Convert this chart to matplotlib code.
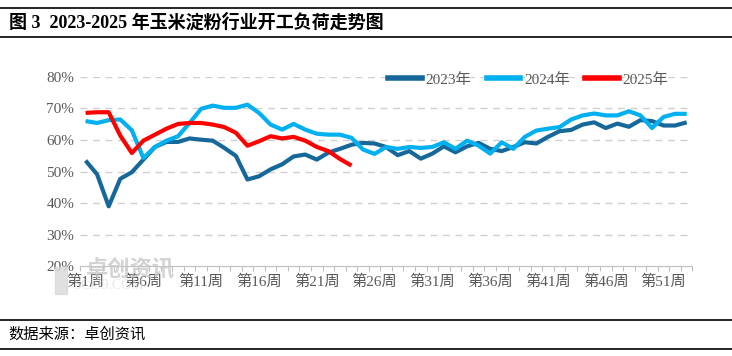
import matplotlib
matplotlib.use("Agg")
from matplotlib import pyplot as plt
from matplotlib.lines import Line2D
from matplotlib.patches import Rectangle
import numpy as np

plt.rcParams['font.family'] = ['Liberation Serif', 'Noto Sans CJK SC', 'DejaVu Sans']

# weekly operating rate, %
weeks = list(range(1, 54))
load_2023 = [53.5, 49.1, 39.0, 47.7, 49.8, 53.8, 57.8, 59.4, 59.4, 60.5,
             60.1, 59.8, 57.5, 55.0, 47.5, 48.5, 50.7, 52.3, 54.8, 55.4,
             53.8, 56.0, 57.2, 58.5, 59.1, 58.9, 57.8, 55.2, 56.5, 54.1,
             55.7, 58.0, 56.1, 58.0, 59.1, 57.2, 56.5, 57.8, 59.3, 58.9,
             61.0, 62.8, 63.2, 64.9, 65.6, 63.8, 65.2, 64.2, 66.3, 66.0,
             64.6, 64.6, 65.6]
load_2024 = [66.0, 65.4, 66.3, 66.5, 63.1, 54.3, 57.8, 59.8, 61.2, 65.4,
             69.9, 70.9, 70.2, 70.2, 71.2, 68.6, 64.9, 63.3, 65.1, 63.3,
             62.0, 61.7, 61.7, 60.7, 57.0, 55.6, 57.8, 57.2, 57.8, 57.5,
             57.8, 59.3, 57.2, 59.8, 58.2, 55.7, 59.3, 57.2, 61.0, 63.0,
             63.6, 64.1, 66.5, 67.8, 68.4, 67.8, 67.8, 69.1, 67.8, 63.8,
             67.3, 68.3, 68.3]
load_2025 = [68.6, 68.8, 68.8, 61.4, 55.9, 59.8, 61.7, 63.6, 65.1, 65.4,
             65.4, 64.9, 64.1, 62.3, 58.2, 59.6, 61.2, 60.5, 61.0, 59.8,
             57.8, 56.5, 54.0, 51.9]
week_labels = [f"第{w}周" for w in weeks]

series = [("2023年", load_2023, "#17689a"),
          ("2024年", load_2024, "#00b0f0"),
          ("2025年", load_2025, "#ff0000")]

fig = plt.figure(figsize=(7.32, 3.56), dpi=100)
ax = fig.add_axes([0.109, 0.252, 0.837, 0.532])

for name, vals, col in series:
    ax.plot(weeks[:len(vals)], vals, color=col, lw=3.0, label=name,
            solid_capstyle='butt', solid_joinstyle='round')

ax.set_xlim(0.5, 53.5)
ax.set_ylim(20, 80)
ax.set_yticks(np.arange(20, 81, 10))
ax.set_yticklabels([f"{v}%" for v in range(20, 81, 10)])
ax.set_xticks(weeks[::5])
ax.set_xticklabels(week_labels[::5])
ax.set_xticks(np.arange(0.5, 54, 1), minor=True)
ax.tick_params(axis='x', which='major', length=0, pad=6, labelsize=11, colors='#595959')
ax.tick_params(axis='x', which='minor', length=3.5, color='#bfbfbf', width=0.8)
ax.tick_params(axis='y', length=0, pad=4, labelsize=11, colors='#595959')

for v in range(30, 81, 10):
    ax.axhline(v, color='#d0d0d0', lw=1.0, ls=(0, (5, 4)), zorder=0)
for s in ['top', 'right', 'left']:
    ax.spines[s].set_visible(False)
ax.spines['bottom'].set_color('#bfbfbf')

handles = [Line2D([], [], color=c, lw=4) for _, _, c in series]
ax.legend(handles, [n for n, _, _ in series], loc='upper center',
          bbox_to_anchor=(0.732, 1.095), ncol=3, frameon=False, fontsize=11,
          handlelength=2.2, handletextpad=0.25, columnspacing=1.0,
          labelcolor='#595959')

# watermark (logo block + name)
fig.add_artist(Rectangle((0.075, 0.175), 0.017, 0.075, color='#d9d9d9', alpha=0.8))
fig.text(0.118, 0.245, "卓创资讯", fontsize=16, color='#c8c8c8', alpha=0.8,
         family=['Noto Sans CJK SC'], fontweight='bold', va='center')
fig.text(0.10, 0.198, "SCI99.COM", fontsize=10, color='#d8d8d8', alpha=0.6,
         va='center', zorder=0)

# frame lines, title and source
for y in [0.977, 0.896, 0.101, 0.020]:
    fig.add_artist(Line2D([0, 1], [y, y], color='black', lw=1.2))
fig.text(0.012, 0.936, "图 3  2023-2025 年玉米淀粉行业开工负荷走势图", fontsize=13,
         fontweight='bold', va='center', color='black')
fig.text(0.012, 0.062, "数据来源：卓创资讯", fontsize=11, va='center', color='black',
         family=['Noto Sans CJK SC'])

fig.savefig("out.png", dpi=100)
